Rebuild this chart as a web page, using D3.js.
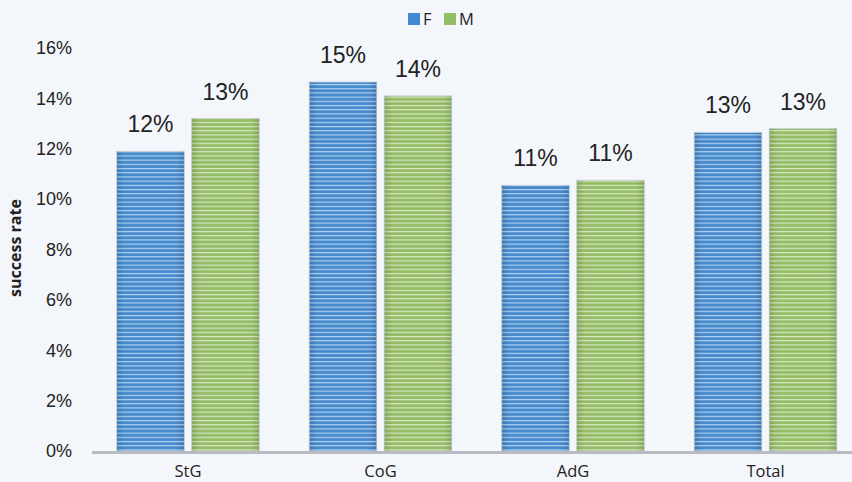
<!DOCTYPE html>
<html><head><meta charset="utf-8">
<script src="https://cdn.jsdelivr.net/npm/d3@7"></script>
<style>
html,body{margin:0;padding:0;background:#f3f6fb;}
svg{display:block;}
</style></head>
<body>
<svg id="chart" width="852" height="482"></svg>
<script>
const categories = ["StG", "CoG", "AdG", "Total"];
const seriesNames = ["F", "M"];
const valuesF = [11.9, 14.65, 10.55, 12.65];
const valuesM = [13.2, 14.1, 10.75, 12.8];
const yTicks = [0, 2, 4, 6, 8, 10, 12, 14, 16];
const colors = {F: "#4289cf", M: "#94be64"};
const light = {F: "#b0d2f0", M: "#d6e7c2"};
const dark = {F: "#2f74b8", M: "#7fab4f"};

const svg = d3.select("#chart");
const W = 852, H = 482;

const x = d3.scaleBand().domain(categories).range([91.75, 861.75]).paddingInner(0).paddingOuter(0);
const xs = d3.scaleBand().domain(seriesNames).range([25, x.bandwidth() - 25]).paddingInner(0.1).paddingOuter(0);
const y = d3.scaleLinear().domain([0, 16]).range([451, 48]);

const defs = svg.append("defs");
seriesNames.forEach(s => {
  const p = defs.append("pattern").attr("id", "pat" + s).attr("patternUnits", "userSpaceOnUse")
    .attr("width", 8).attr("height", 4.2);
  p.append("rect").attr("width", 8).attr("height", 4.2).attr("fill", colors[s]);
  p.append("rect").attr("y", 0).attr("width", 8).attr("height", 1.1).attr("fill", light[s]);
  p.append("rect").attr("y", 2.2).attr("width", 8).attr("height", 0.9).attr("fill", dark[s]).attr("opacity", 0.5);
  const g = defs.append("linearGradient").attr("id", "shade" + s).attr("x1", 0).attr("x2", 1).attr("y1", 0).attr("y2", 0);
  g.append("stop").attr("offset", "0%").attr("stop-color", "#000").attr("stop-opacity", 0.12);
  g.append("stop").attr("offset", "15%").attr("stop-color", "#fff").attr("stop-opacity", 0.05);
  g.append("stop").attr("offset", "85%").attr("stop-color", "#fff").attr("stop-opacity", 0.05);
  g.append("stop").attr("offset", "100%").attr("stop-color", "#000").attr("stop-opacity", 0.12);
});

const data = categories.map((c, i) => ({cat: c, vals: [{s: "F", v: valuesF[i]}, {s: "M", v: valuesM[i]}]}));

// y axis labels
const yAxis = d3.axisLeft(y).tickValues(yTicks).tickFormat(d => d + "%").tickSize(0).tickPadding(0);
const ya = svg.append("g").attr("transform", `translate(72,0)`).call(yAxis);
ya.select(".domain").remove();
ya.selectAll("text").attr("font-family", "Liberation Sans, Arial, sans-serif").attr("font-size", 18).attr("fill", "#222");

// bars
const groups = svg.selectAll("g.cat").data(data).join("g").attr("class", "cat")
  .attr("transform", d => `translate(${x(d.cat)},0)`);
groups.selectAll("rect.bar").data(d => d.vals).join("rect").attr("class", "bar")
  .attr("x", d => xs(d.s)).attr("width", xs.bandwidth())
  .attr("y", d => y(d.v)).attr("height", d => y(0) - y(d.v))
  .attr("fill", d => `url(#pat${d.s})`).attr("stroke", "#c9cfd6").attr("stroke-width", 0.8);
groups.selectAll("rect.shade").data(d => d.vals).join("rect").attr("class", "shade")
  .attr("x", d => xs(d.s)).attr("width", xs.bandwidth())
  .attr("y", d => y(d.v)).attr("height", d => y(0) - y(d.v))
  .attr("fill", d => `url(#shade${d.s})`);
groups.selectAll("text.lbl").data(d => d.vals).join("text").attr("class", "lbl")
  .attr("x", d => xs(d.s) + xs.bandwidth() / 2).attr("y", d => y(d.v) - 19)
  .attr("text-anchor", "middle").attr("font-family", "Liberation Sans, Arial, sans-serif")
  .attr("font-size", 23).attr("fill", "#222").text(d => Math.round(d.v) + "%");

// x axis
const xAxis = d3.axisBottom(x).tickSize(0).tickPadding(14);
const xa = svg.append("g").attr("transform", `translate(0,${y(0)})`).call(xAxis);
xa.select(".domain").remove();
xa.selectAll("text").attr("font-family", "Open Sans, Noto Sans, sans-serif").attr("font-size", 16.5).attr("fill", "#222");
svg.append("line").attr("x1", 92).attr("x2", W).attr("y1", y(0) + 1.5).attr("y2", y(0) + 1.5)
  .attr("stroke", "#b8bcc2").attr("stroke-width", 3);

// y title
svg.append("text").attr("transform", `translate(21,248) rotate(-90)`)
  .attr("text-anchor", "middle").attr("font-family", "Open Sans, Noto Sans, sans-serif")
  .attr("font-weight", "bold").attr("font-size", 16).attr("fill", "#222").text("success rate");

// legend
const leg = svg.append("g").attr("transform", "translate(408,13)");
const legItems = leg.selectAll("g").data(seriesNames).join("g").attr("transform", (d, i) => `translate(${i * 36},0)`);
legItems.append("rect").attr("width", 12).attr("height", 12).attr("fill", d => colors[d]);
legItems.append("text").attr("x", 15).attr("y", 12).attr("font-family", "Open Sans, Noto Sans, sans-serif")
  .attr("font-size", 16.5).attr("fill", "#222").text(d => d);
</script>
</body></html>
